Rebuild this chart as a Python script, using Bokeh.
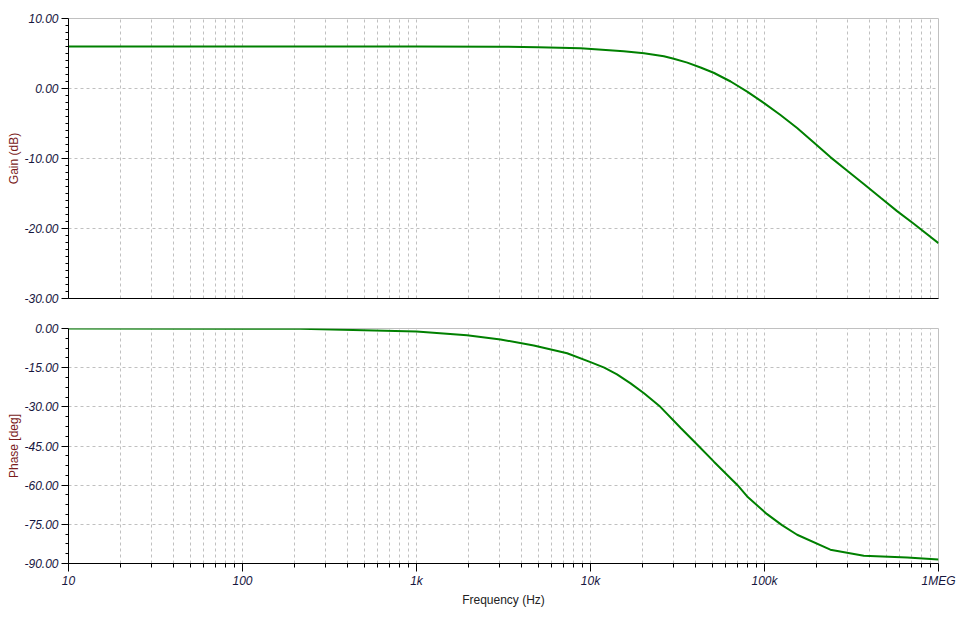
from bokeh.plotting import figure
from bokeh.layouts import column
from bokeh.models import Range1d, FixedTicker, PrintfTickFormatter
from bokeh.embed import file_html
from bokeh.resources import INLINE

# ---- data ----
gain_freq = [10, 100, 1000, 3000, 5000, 8770, 15500, 20300, 26400, 30100, 36000,
             42900, 51000, 63900, 79500, 99000, 123000, 154000, 192000, 239000,
             299000, 372000, 465000, 578000, 721000, 1000000]
gain_db = [6.0, 6.0, 6.0, 5.97, 5.9, 5.76, 5.33, 5.05, 4.6, 4.25, 3.7,
           3.0, 2.25, 1.0, -0.45, -2.05, -3.75, -5.65, -7.7, -9.8,
           -11.75, -13.65, -15.62, -17.52, -19.33, -22.1]

phase_freq = [10, 100, 215, 1000, 1950, 3040, 4720, 7340, 10000, 12000, 14200,
              17000, 20300, 25200, 32900, 41800, 51200, 70000, 79500, 103000,
              126000, 154000, 239000, 372000, 661000, 1000000]
phase_deg = [0.0, -0.05, -0.1, -1.15, -2.6, -4.2, -6.5, -9.5, -12.9, -15.0, -17.6,
             -21.0, -24.8, -30.0, -38.0, -45.0, -51.0, -60.0, -64.3, -71.0,
             -75.3, -79.0, -84.7, -87.0, -87.7, -88.5]

freq_ticks = [10, 100, 1000, 10000, 100000, 1000000]
freq_labels = ["10", "100", "1k", "10k", "100k", "1MEG"]
gain_ticks = [-30, -20, -10, 0, 10]
phase_ticks = [-90, -75, -60, -45, -30, -15, 0]

# ---- styling ----
LINE = "#008000"
GRID = "#c0c0c0"
TICKLBL = "#16163e"
AXLBL = "#7a1c1c"
FONT = "Liberation Sans"

minor_x = [d * m for d in freq_ticks[:-1] for m in range(2, 10)]
minor_gain = [gain_ticks[0] + i for i in range(0, 41) if (gain_ticks[0] + i) % 10 != 0]
minor_phase = [-90 + 3.75 * i for i in range(0, 25) if i % 4 != 0]

xr = Range1d(10, 1e6)


def base(frame_h, top, bottom, y_range):
    p = figure(x_axis_type="log", x_range=xr, y_range=y_range,
               frame_width=870, frame_height=frame_h,
               min_border_left=68, min_border_right=21,
               min_border_top=top, min_border_bottom=bottom,
               output_backend="svg", toolbar_location=None,
               background_fill_color="white", border_fill_color="white")
    p.outline_line_color = GRID
    p.outline_line_width = 1
    xt = FixedTicker(ticks=freq_ticks, minor_ticks=minor_x)
    p.xaxis.ticker = xt
    p.xgrid.ticker = xt
    for ax in (p.xaxis[0], p.yaxis[0]):
        ax.axis_line_color = "black"
        ax.axis_line_width = 1
        ax.major_tick_line_color = "black"
        ax.minor_tick_line_color = "black"
        ax.major_tick_in = 0
        ax.minor_tick_in = 0
        ax.major_label_text_font = FONT
        ax.major_label_text_font_style = "italic"
        ax.major_label_text_font_size = "12px"
        ax.major_label_text_color = TICKLBL
        ax.axis_label_text_font = FONT
        ax.axis_label_text_font_style = "normal"
        ax.axis_label_text_font_size = "12px"
    p.yaxis.major_tick_out = 7
    p.yaxis.minor_tick_out = 3
    p.yaxis.major_label_standoff = 3
    p.yaxis.axis_label_standoff = 0
    p.yaxis.axis_label_text_color = AXLBL
    p.yaxis.formatter = PrintfTickFormatter(format="%.2f")

    p.xgrid.grid_line_color = GRID
    p.xgrid.grid_line_dash = "3 3"
    p.xgrid.minor_grid_line_color = GRID
    p.xgrid.minor_grid_line_dash = "3 3"
    p.ygrid.grid_line_color = GRID
    p.ygrid.grid_line_dash = "3 3"
    return p


# Gain plot
p1 = base(280, 18, 15, Range1d(-30, 10))
p1.yaxis.ticker = FixedTicker(ticks=gain_ticks, minor_ticks=minor_gain)
p1.yaxis.axis_label = "Gain (dB)"
p1.xaxis.ticker = FixedTicker(ticks=[], minor_ticks=[])
p1.xaxis.major_tick_out = 0
p1.xaxis.minor_tick_out = 0
p1.xaxis.major_label_standoff = 0
p1.line(gain_freq, gain_db, line_color=LINE, line_width=2)

# Phase plot
p2 = base(235, 15, 50, Range1d(-90, 0))
p2.yaxis.ticker = FixedTicker(ticks=phase_ticks, minor_ticks=minor_phase)
p2.yaxis.axis_label = "Phase [deg]"
p2.xaxis.major_label_overrides = {t: l for t, l in zip(freq_ticks, freq_labels)}
p2.xaxis.major_tick_out = 8
p2.xaxis.minor_tick_out = 4
p2.xaxis.major_label_standoff = 2
p2.xaxis.axis_label = "Frequency (Hz)"
p2.xaxis.axis_label_standoff = 2
p2.xaxis.axis_label_text_color = "#222222"
p2.line(phase_freq, phase_deg, line_color=LINE, line_width=2)

layout = column(p1, p2, spacing=0)
open("out.html", "w").write(file_html(layout, INLINE))
